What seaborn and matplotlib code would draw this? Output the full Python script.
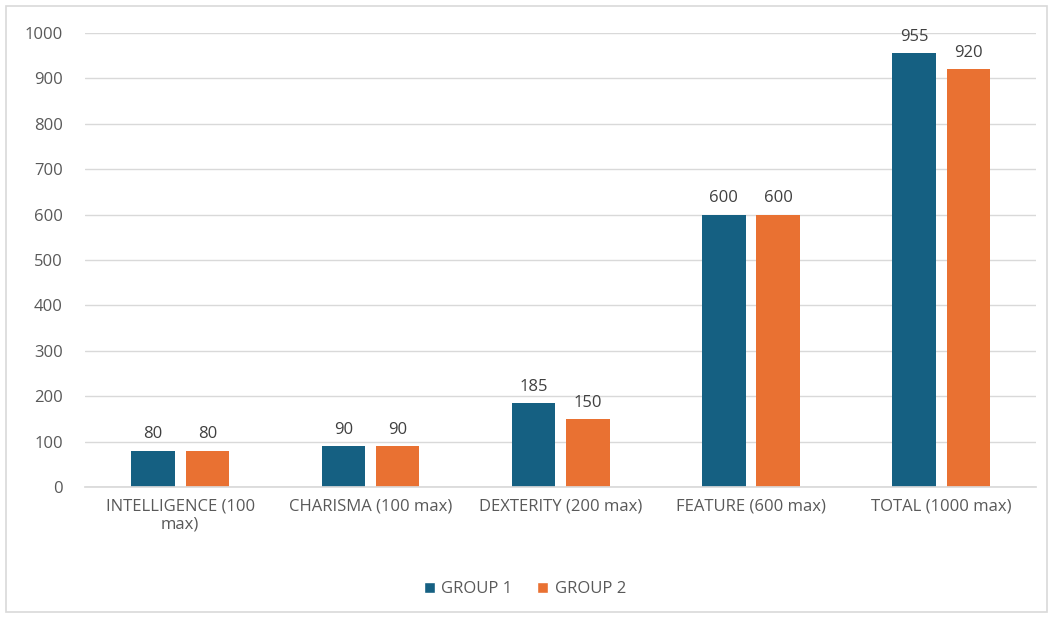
import matplotlib
matplotlib.use("Agg")
import matplotlib.pyplot as plt
import seaborn as sns
import pandas as pd
from matplotlib.patches import Rectangle, Patch

categories = ["INTELLIGENCE (100\nmax)", "CHARISMA (100 max)", "DEXTERITY (200 max)",
              "FEATURE (600 max)", "TOTAL (1000 max)"]
group1 = [80, 90, 185, 600, 955]
group2 = [80, 90, 150, 600, 920]
series = ["GROUP 1", "GROUP 2"]
colors = ["#156082", "#E97132"]

df = pd.DataFrame({
    "category": categories * 2,
    "value": group1 + group2,
    "group": [series[0]] * len(categories) + [series[1]] * len(categories),
})

sns.set_theme(style="white")
plt.rcParams["font.family"] = ["Open Sans", "DejaVu Sans"]

fig = plt.figure(figsize=(10.5, 6.17), dpi=100)
ax = fig.add_axes([0.081, 0.2107, 0.906, 0.7358])

sns.barplot(data=df, x="category", y="value", hue="group", palette=colors,
            width=0.57, gap=0.2, ax=ax, legend=False, saturation=1, linewidth=0)

ax.set_ylim(0, 1000)
ax.set_yticks(range(0, 1001, 100))
ax.yaxis.grid(True, color="#D9D9D9", linewidth=1)
ax.set_axisbelow(True)
for s in ["top", "right", "left"]:
    ax.spines[s].set_visible(False)
ax.spines["bottom"].set_color("#D9D9D9")
ax.set_xlabel("")
ax.set_ylabel("")
ax.tick_params(axis="both", length=0, colors="#595959", labelsize=12)
ax.tick_params(axis="y", pad=16)
ax.tick_params(axis="x", pad=8)

for cont in ax.containers:
    ax.bar_label(cont, fmt="%d", padding=6, color="#404040", fontsize=12)

handles = [Patch(facecolor=c, label=s) for c, s in zip(colors, series)]
fig.legend(handles=handles, loc="center", bbox_to_anchor=(0.5, 0.045), ncol=2,
           frameon=False, fontsize=12, handlelength=0.65, handleheight=0.65,
           handletextpad=0.4, columnspacing=1.5, labelcolor="#595959")

fig.patches.append(Rectangle((6 / 1050, 5 / 617), 1041 / 1050, 606 / 617,
                             transform=fig.transFigure, fill=False,
                             edgecolor="#D9D9D9", linewidth=1.2))

fig.savefig("out.png", dpi=100)
